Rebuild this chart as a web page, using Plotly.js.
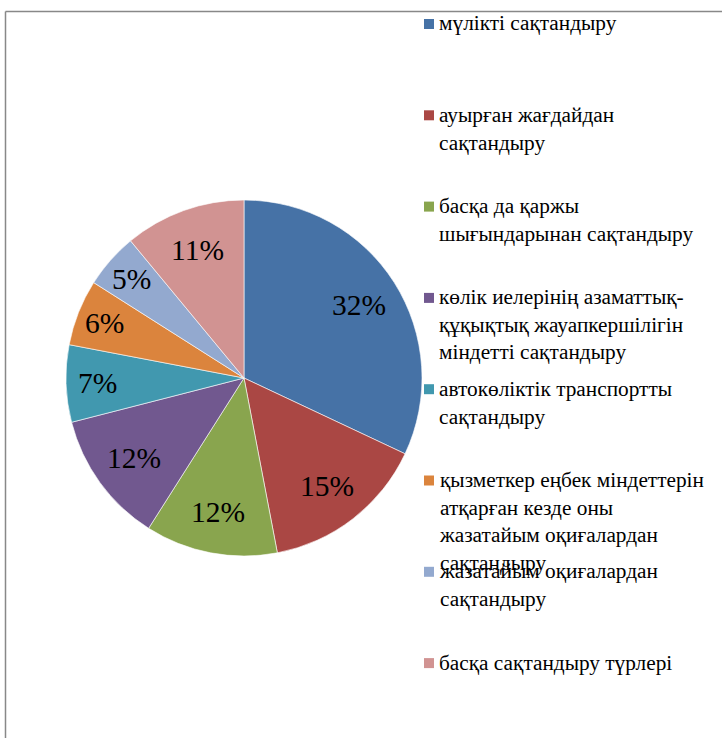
<!DOCTYPE html>
<html>
<head>
<meta charset="utf-8">
<script src="https://cdn.plot.ly/plotly-3.0.1.min.js"></script>
<style>
html,body{margin:0;padding:0;background:#fff;}
#chart{width:722px;height:738px;}
</style>
</head>
<body>
<div id="chart"></div>
<script>
const categories = [
  "мүлікті сақтандыру",
  "ауырған жағдайдан<br>сақтандыру",
  "басқа да қаржы<br>шығындарынан сақтандыру",
  "көлік иелерінің азаматтық-<br>құқықтық жауапкершілігін<br>міндетті сақтандыру",
  "автокөліктік транспортты<br>сақтандыру",
  "қызметкер еңбек міндеттерін<br>атқарған кезде оны<br>жазатайым оқиғалардан<br>сақтандыру",
  "жазатайым оқиғалардан<br>сақтандыру",
  "басқа сақтандыру түрлері"
];
const shares = [32, 15, 12, 12, 7, 6, 5, 11];
const colors = ["#4672A6", "#AA4744", "#89A54E", "#71588F", "#4198AF", "#DB843D", "#93A9CF", "#D19392"];

const W = 722, H = 738;
const font = "Liberation Serif";

// pie geometry (pixels)
const pieLeft = 66, pieRight = 422, pieTop = 200, pieBottom = 556;

const trace = {
  type: "pie",
  values: shares,
  labels: categories,
  sort: false,
  direction: "clockwise",
  rotation: 0,
  marker: {colors: colors, line: {color: "#ffffff", width: 0.6}},
  textinfo: "none",
  hoverinfo: "label+percent",
  showlegend: false,
  domain: {x: [pieLeft / W, pieRight / W], y: [1 - pieBottom / H, 1 - pieTop / H]}
};

const annotations = [];
const shapes = [];

// percentage labels placed along each slice's bisector (derived from the shares)
const total = shares.reduce((a, b) => a + b, 0);
const cx = (pieLeft + pieRight) / 2, cy = (pieTop + pieBottom) / 2, R = (pieRight - pieLeft) / 2;
let cum = 0;
shares.forEach((v, i) => {
  const frac = v / total;
  const mid = (cum + frac / 2) * 2 * Math.PI;
  const half = frac * Math.PI;
  const s = Math.sin(Math.min(half, Math.PI / 2));
  const rIns = s / (1 + s);
  const f = Math.min(0.84, Math.max(0.765, 1 - rIns));
  const px = cx + Math.sin(mid) * R * f;
  const py = cy - Math.cos(mid) * R * f;
  annotations.push({
    xref: "paper", yref: "paper", x: px / W, y: 1 - py / H,
    xanchor: "center", yanchor: "middle", showarrow: false,
    text: Math.round(frac * 100) + "%",
    font: {family: font, size: 29.5, color: "#000"}
  });
  cum += frac;
});

// legend drawn as annotations + squares, 8 entries at fixed spacing
const legendTop = 24, legendStep = 91.3;
categories.forEach((c, i) => {
  const yc = legendTop + i * legendStep;
  annotations.push({
    xref: "paper", yref: "paper",
    x: 437 / W, y: 1 - (yc - 14.5) / H,
    xanchor: "left", yanchor: "top", align: "left",
    text: c, showarrow: false,
    font: {family: font, size: 21.3, color: "#000"}
  });
  shapes.push({
    type: "rect", xref: "paper", yref: "paper",
    x0: 424 / W, x1: 434 / W, y0: 1 - (yc + 5) / H, y1: 1 - (yc - 5) / H,
    fillcolor: colors[i], line: {width: 0}
  });
});
// chart frame (top and left edges visible)
shapes.push({type: "line", xref: "paper", yref: "paper", x0: 5.5 / W, x1: 1.01, y0: 1 - 11.5 / H, y1: 1 - 11.5 / H, line: {color: "#888", width: 1.5}});
shapes.push({type: "line", xref: "paper", yref: "paper", x0: 5.5 / W, x1: 5.5 / W, y0: -0.01, y1: 1 - 11.5 / H, line: {color: "#888", width: 1.5}});

const layout = {
  width: W, height: H,
  margin: {l: 0, r: 0, t: 0, b: 0},
  paper_bgcolor: "#fff",
  showlegend: false,
  annotations: annotations,
  shapes: shapes
};

Plotly.newPlot("chart", [trace], layout, {displayModeBar: false, staticPlot: true});
</script>
</body>
</html>
